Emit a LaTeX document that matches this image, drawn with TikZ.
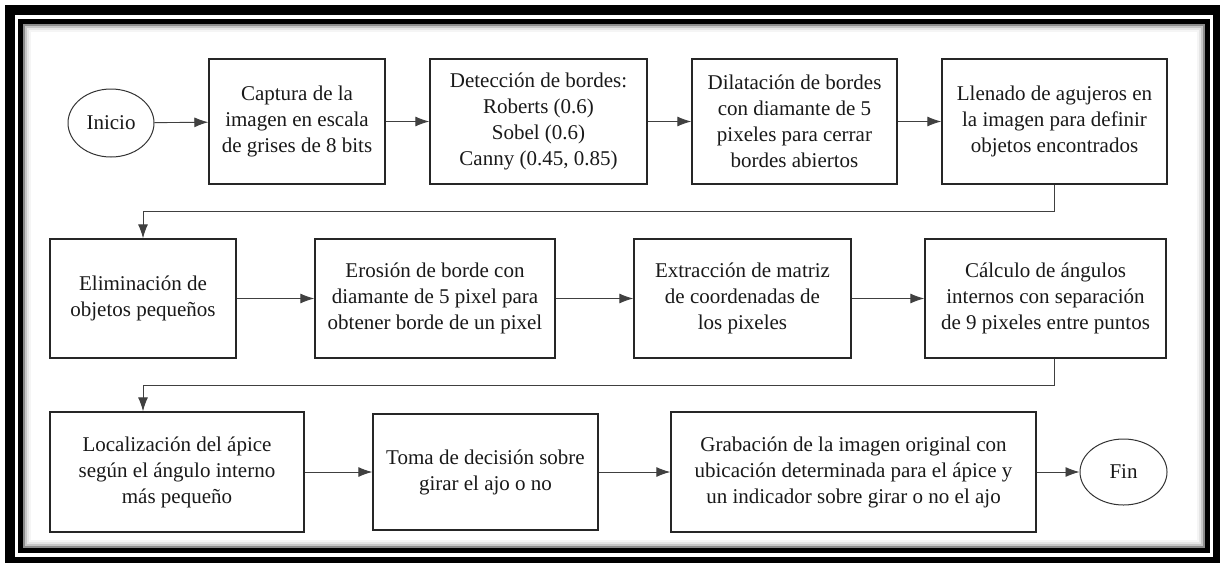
\documentclass[tikz,border=0pt]{standalone}
\usepackage{fontspec}
\setmainfont{Liberation Serif}
\usepackage{tikz}
\usetikzlibrary{shapes.geometric,arrows.meta,positioning,calc}
\tikzstyle{paso} = [draw=black!85,line width=1.4pt,align=center,inner sep=0pt,text=black!90,font=\fontsize{21}{26}\selectfont]
\tikzstyle{limite} = [ellipse,draw=black!80,line width=1pt,inner sep=0pt,text=black!90,font=\fontsize{21}{26}\selectfont]
\tikzstyle{flecha} = [->,draw=black!75,line width=0.9pt]
\tikzset{>={Latex[length=14pt,width=10pt]}}

\begin{document}
\begin{tikzpicture}[x=1pt,y=-1pt]
    \useasboundingbox (0,0) rectangle (1222,563);
    \fill [black] (5,5) rectangle (1220,563);
    \fill [white] (15,15) rectangle (1213,557);
    \fill [black] (18,19) rectangle (1210,553);
    \fill [black!45] (23,24) rectangle (1205,548);
    \fill [black!22] (25,26) rectangle (1203,546);
    \fill [black!10] (27,28) rectangle (1201,544);
    \fill [black!4] (29,30) rectangle (1199,542);
    \fill [white] (31,32) rectangle (1197,540);

    \node [limite,minimum width=86pt,minimum height=68pt] (inicio) at (111,123) {Inicio};
    \node [paso,minimum width=176pt,minimum height=125pt] (captura) at (297,121.5) {Captura de la\\imagen en escala\\de grises de 8 bits};
    \node [paso,minimum width=217pt,minimum height=125pt] (deteccion) at (538.5,121.5) {Detección de bordes:\\Roberts (0.6)\\Sobel (0.6)\\Canny (0.45, 0.85)};
    \node [paso,minimum width=205pt,minimum height=125pt] (dilatacion) at (794.5,121.5) {Dilatación de bordes\\con diamante de 5\\pixeles para cerrar\\bordes abiertos};
    \node [paso,minimum width=225pt,minimum height=125pt] (llenado) at (1054.5,121.5) {Llenado de agujeros en\\la imagen para definir\\objetos encontrados};

    \node [paso,minimum width=186pt,minimum height=119pt] (eliminacion) at (143,298.5) {Eliminación de\\objetos pequeños};
    \node [paso,minimum width=240pt,minimum height=119pt] (erosion) at (435,298.5) {Erosión de borde con\\diamante de 5 pixel para\\obtener borde de un pixel};
    \node [paso,minimum width=217pt,minimum height=119pt] (extraccion) at (742.5,298.5) {Extracción de matriz\\de coordenadas de\\los pixeles};
    \node [paso,minimum width=241pt,minimum height=119pt] (calculo) at (1045.5,298.5) {Cálculo de ángulos\\internos con separación\\de 9 pixeles entre puntos};

    \node [paso,minimum width=254pt,minimum height=120pt] (localizacion) at (177,472) {Localización del ápice\\según el ángulo interno\\más pequeño};
    \node [paso,minimum width=225pt,minimum height=116pt] (toma) at (485.5,472) {Toma de decisión sobre\\girar el ajo o no};
    \node [paso,minimum width=365pt,minimum height=120pt] (grabacion) at (853.5,472) {Grabación de la imagen original con\\ubicación determinada para el ápice y\\un indicador sobre girar o no el ajo};
    \node [limite,minimum width=87pt,minimum height=66pt] (fin) at (1123.5,472) {Fin};

    \draw [flecha] (inicio) -- (captura);
    \draw [flecha] (captura) -- (deteccion);
    \draw [flecha] (deteccion) -- (dilatacion);
    \draw [flecha] (dilatacion) -- (llenado);
    \draw [flecha] (llenado.south) -- ++(0,27) -| (eliminacion.north);

    \draw [flecha] (eliminacion) -- (erosion);
    \draw [flecha] (erosion) -- (extraccion);
    \draw [flecha] (extraccion) -- (calculo);
    \draw [flecha] (llenado.south |- calculo.south) -- ++(0,27) -| (eliminacion.south |- localizacion.north);

    \draw [flecha] (localizacion) -- (toma);
    \draw [flecha] (toma) -- (grabacion);
    \draw [flecha] (grabacion) -- (fin);
  \end{tikzpicture}
\end{document}
